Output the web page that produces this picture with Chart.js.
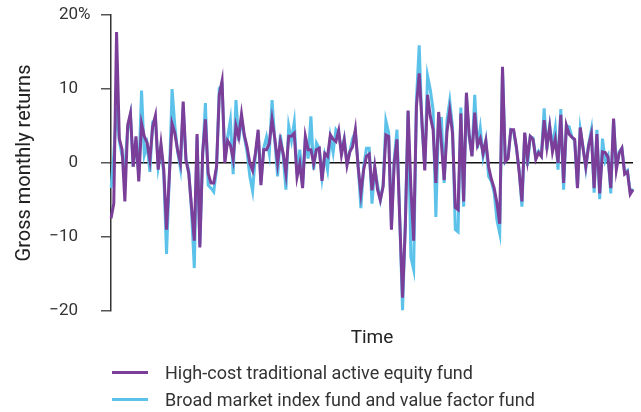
<!DOCTYPE html>
<html>
<head>
<meta charset="utf-8">
<script src="https://cdn.jsdelivr.net/npm/chart.js@4.4.1/dist/chart.umd.min.js"></script>
<style>
  body { margin: 0; background: #fff; font-family: Roboto, sans-serif; }
  #wrap { position: relative; width: 641px; height: 412px; }
  #legend { position: absolute; left: 112px; top: 359px; color: #333; font-size: 18px; }
  .item { display: flex; align-items: center; height: 27px; }
  .swatch { width: 36px; height: 3px; margin-right: 17px; }
</style>
</head>
<body>
<div id="wrap">
  <canvas id="chart" width="641" height="412"></canvas>
  <div id="legend"></div>
</div>
<script>
// monthly returns (%)
const activeFund = [
  -7.5, -5.5, 17.7, 3.3, 1.8, -5.2, 5.1, 6.7, -0.5, 3.6, -2.5, 5.3, 3.6, 2.7, 0.4, 4.9,
  6.4, -0.9, 2.6, -0.9, -9.0, -1.8, 5.3, 4.0, 1.7, 0, 8.3, 0.4, -1.4, -5.9, -10.5, 3.9,
  -11.4, 1.3, 5.9, -1.4, -2.7, -2.7, -0.5, 9.2, 11.1, 0, 3.0, 2.4, 0.5, 5.0, 3.5, 6.6,
  3.8, 2.2, 0, -1.0, 1.3, 4.5, -3.0, 1.8, 1.8, 2.6, 5.9, 3.3, 0, 3.0, 1.3, -1.4,
  3.6, 3.6, 4.0, -1.9, -0.1, -3.4, 3.6, 1.8, 1.8, -0.1, 1.8, 2.0, -2.4, 1.3, 0.9, 3.8,
  3.2, 2.9, 4.4, 1.1, 3.1, -0.3, 1.5, 2.2, 4.5, -0.5, -4.1, -0.9, 0.9, 1.2, -3.7,
  -0.5, -3.6, -5.0, -3.2, 3.8, 3.6, -9.0, 0, 3.2, -7.7, -18.2, -8.6, 7.1, -3.2, -10.5, 7.6,
  12.1, 5.6, -1.0, 9.2, 6.3, 4.5, -2.7, 6.9, 2.6, -2.3, 4.2, 7.1, 4.0, -6.0, -6.3, 6.7,
  -5.2, 9.5, 3.8, 0.9, 6.8, 2.4, 3.3, 1.3, 3.0, -0.5, -2.2, -3.4, -5.4, -8.2, 13.0, 0.2,
  0.6, 4.5, 4.5, 2.2, -1.2, -5.2, 4.1, 0.5, 3.6, 3.2, 0.5, 1.4, 0.9, 5.8, 2.2, 4.9,
  1.5, 3.2, 0, 6.5, -2.7, 5.1, 3.9, 3.5, 3.2, -3.4, 4.8, 2.0, -0.5, 2.3, 3.9, -3.4,
  3.9, -4.1, 1.5, 1.4, 0.8, -3.4, 6.0, -0.9, 1.3, 2.0, -1.5, -1.2, -4.2, -3.6
];
const indexFund = [
  -3.4, 1.0, 7.5, 3.0, 1.0, -0.7, 4.5, 6.5, -0.5, 3.0, -1.5, 9.8, 1.1, 2.5, -1.2, 5.5,
  6.0, -0.5, 2.0, -1.5, -12.3, -2.0, 10.0, 5.0, 1.5, -0.7, 7.5, 0.5, -1.0, -6.5, -14.2, 3.5,
  -11.0, 1.0, 8.1, -3.0, -3.4, -3.9, -0.8, 10.1, 10.5, 0.5, 3.5, 5.8, -1.5, 8.5, 3.0, 6.0,
  3.5, 1.5, -1.8, -3.8, 1.0, 4.0, -2.5, 2.0, 3.5, 1.3, 8.5, 3.0, -1.8, 3.8, 1.0, -3.6,
  5.0, 3.0, 5.5, -1.5, 1.8, -3.0, 3.5, 0.6, 6.3, -0.9, 2.7, 2.0, -2.0, 1.0, -0.9, 3.5,
  1.4, 4.5, 4.0, 1.5, 3.3, 0.0, 1.5, 3.3, 4.2, -0.3, -6.1, -0.5, 2.0, 2.0, -5.5,
  -0.7, -3.0, -5.0, -3.0, 5.7, 4.1, -8.5, 0.5, 4.5, -7.5, -19.9, -8.0, 7.0, -12.7, -14.4, 8.5,
  15.9, 5.0, -0.5, 11.8, 9.9, 7.2, -7.3, 6.0, 6.0, -2.7, 5.8, 8.4, 4.9, -9.0, -9.3, 7.5,
  -5.9, 9.0, 3.5, 1.0, 9.2, 2.0, 4.7, 0.9, 3.0, -1.8, -2.5, -4.0, -7.7, -9.5, 12.5, 0.2,
  0.8, 4.5, 4.3, 2.0, -1.0, -5.9, 4.0, -0.4, 3.6, 3.4, 0.7, 1.6, 1.0, 7.4, 1.8, 5.0,
  2.2, 4.7, -0.9, 7.3, -3.6, 5.0, 4.9, 3.5, 3.0, -3.2, 4.6, 2.2, -0.7, 2.5, 4.5, -4.0,
  4.5, -4.9, 3.3, 0.2, 1.0, -4.1, 5.8, -0.5, 1.5, 2.0, -1.3, -1.0, -4.0, -3.5
];
const months = activeFund.map((_, i) => i + 1);
const yTicks = [-20, -10, 0, 10, 20];
const seriesNames = ["High-cost traditional active equity fund", "Broad market index fund and value factor fund"];
const colors = ["#7b3f99", "#5dc2ea"];

// "%" hangs to the right of the top label
const percentSign = {
  id: 'percentSign',
  afterDraw(chart) {
    const y = chart.scales.y;
    const ctx = chart.ctx;
    ctx.save();
    ctx.font = '17px Roboto';
    ctx.fillStyle = '#333';
    ctx.textAlign = 'left';
    ctx.textBaseline = 'middle';
    ctx.fillText('%', 78, y.getPixelForValue(20));
    ctx.restore();
  }
};

new Chart(document.getElementById('chart'), {
  type: 'line',
  data: {
    labels: months,
    datasets: [
      { label: seriesNames[0], data: activeFund, borderColor: colors[0], borderWidth: 3 },
      { label: seriesNames[1], data: indexFund, borderColor: colors[1], borderWidth: 3 }
    ]
  },
  options: {
    responsive: false,
    animation: false,
    events: [],
    elements: { point: { radius: 0 }, line: { tension: 0 } },
    layout: { padding: { top: 15, right: 8, bottom: 61, left: 0 } },
    plugins: { legend: { display: false }, tooltip: { enabled: false } },
    scales: {
      x: {
        offset: false,
        grid: { display: false },
        border: { display: false },
        ticks: { display: false },
        title: { display: true, text: 'Time', color: '#222', font: { family: 'Roboto', size: 19 }, padding: { top: 0, bottom: 1 } },
        afterFit(scale) { scale.height = 40; }
      },
      y: {
        min: -20, max: 20,
        afterBuildTicks(scale) { scale.ticks = yTicks.map(v => ({ value: v })); },
        ticks: {
          color: '#333', padding: 23,
          font: { family: 'Roboto', size: 17 },
          callback: v => v < 0 ? '\u2212' + Math.abs(v) : String(v)
        },
        grid: {
          drawOnChartArea: true,
          tickLength: 10,
          tickColor: '#555',
          lineWidth: 1.5,
          color: ctx => ctx.tick && ctx.tick.value === 0 ? '#111' : 'rgba(0,0,0,0)'
        },
        border: { color: '#333', width: 1.5 },
        title: { display: true, text: 'Gross monthly returns', color: '#222', font: { family: 'Roboto', size: 20 }, padding: { top: 13, bottom: 0 } },
        afterFit(scale) {
          scale.width = 111;
          // label padding would otherwise push the plot down
          scale.paddingTop = 0;
          scale.paddingBottom = 0;
        }
      }
    }
  },
  plugins: [percentSign]
});

const legend = document.getElementById('legend');
seriesNames.forEach((name, i) => {
  const row = document.createElement('div');
  row.className = 'item';
  row.innerHTML = `<span class="swatch" style="background:${colors[i]}"></span><span>${name}</span>`;
  legend.appendChild(row);
});
</script>
</body>
</html>
